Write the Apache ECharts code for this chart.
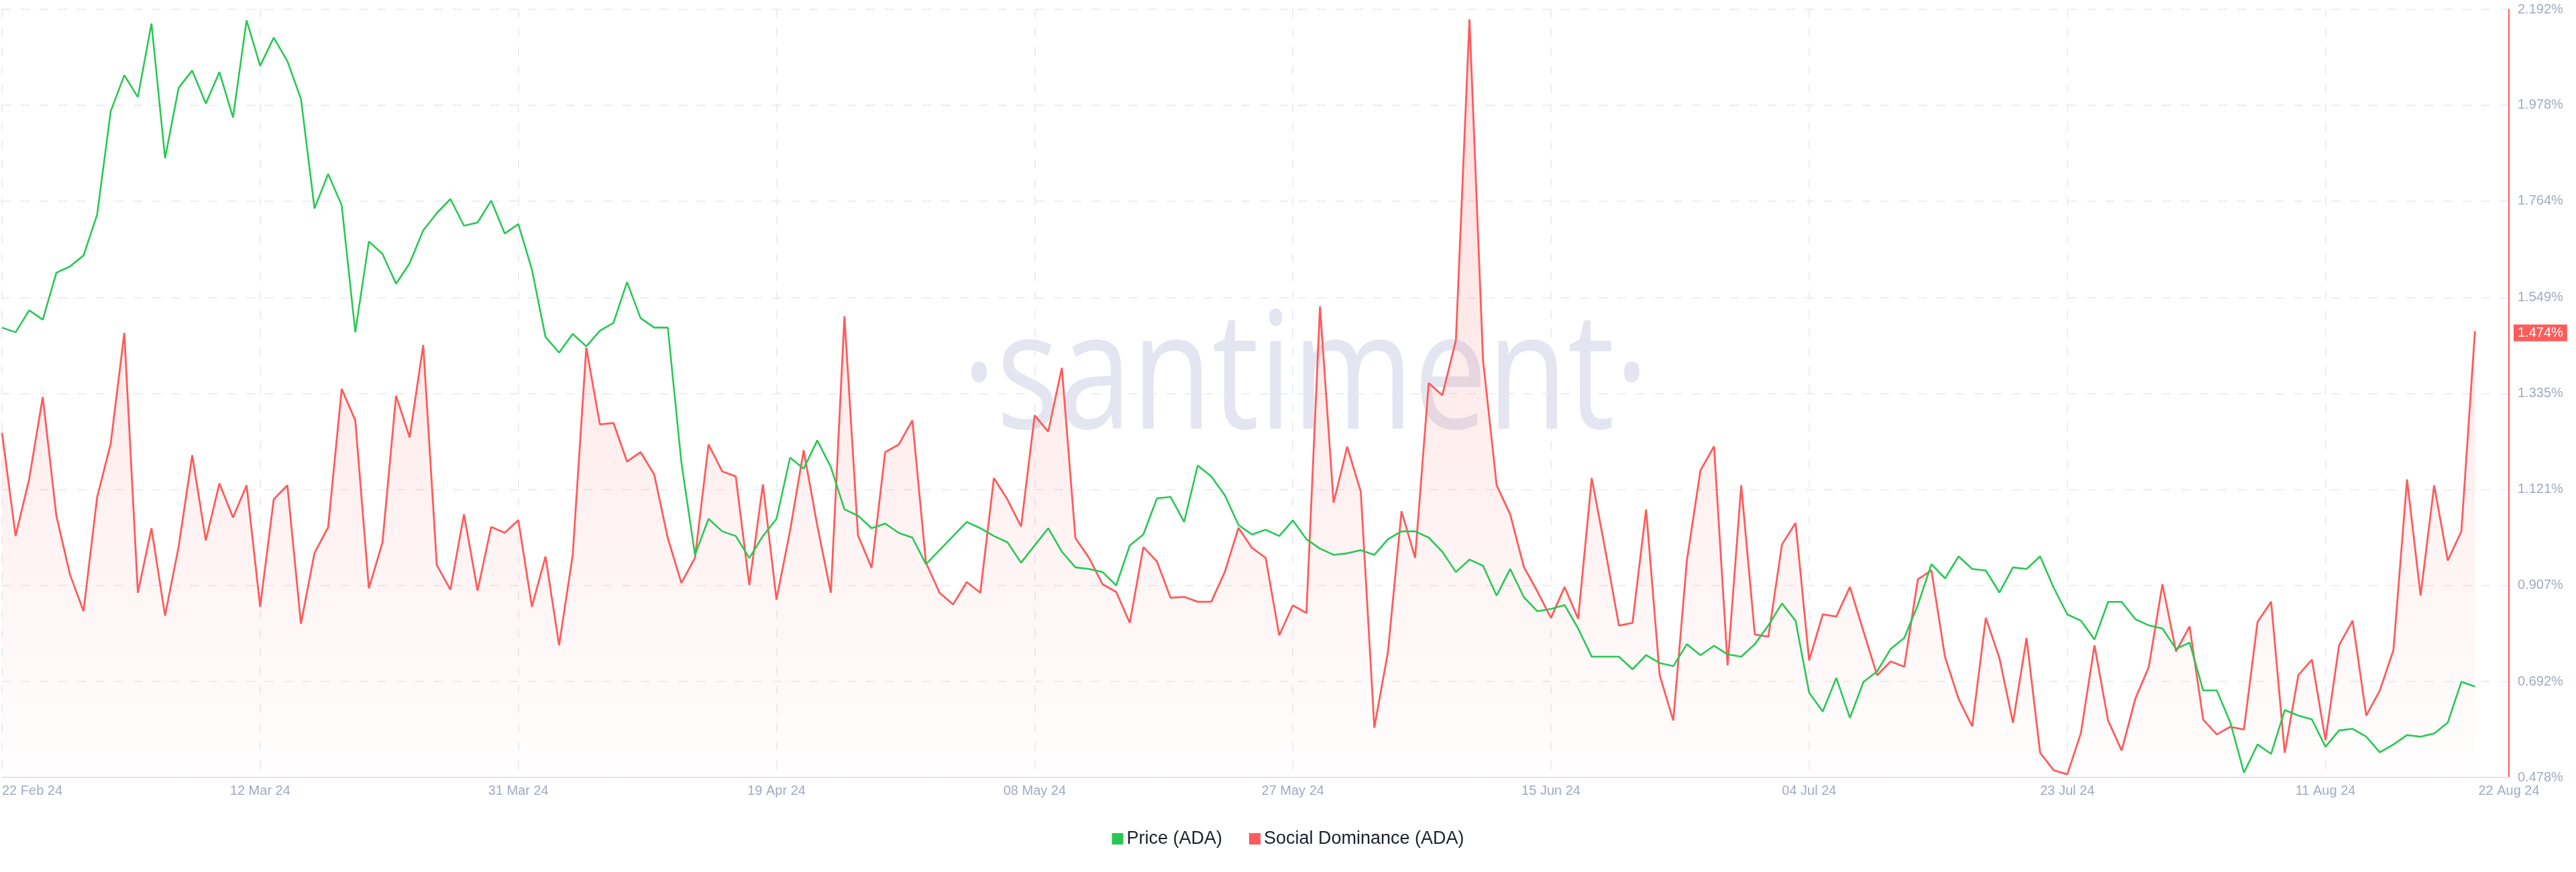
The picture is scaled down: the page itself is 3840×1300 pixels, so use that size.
<!DOCTYPE html>
<html>
<head>
<meta charset="utf-8">
<script src="https://cdn.jsdelivr.net/npm/echarts@6/dist/echarts.min.js"></script>
<style>
html,body{margin:0;padding:0;background:#fff;}
#chart{width:3840px;height:1300px;}
</style>
</head>
<body>
<div id="chart"></div>
<script>
// Daily values, one per day starting 22 Feb 2024 (index 0) to 22 Aug 2024 (index 182)
const priceADA = [
  0.587,0.584,0.598,0.592,0.622,0.626,0.633,0.659,0.725,0.748,0.734,0.781,0.695,0.740,0.751,0.730,0.750,0.721,0.783,0.754,
  0.772,0.757,0.733,0.663,0.685,0.665,0.584,0.642,0.634,0.615,0.628,0.649,0.660,0.669,0.652,
  0.654,0.668,0.647,0.653,0.624,0.581,0.571,0.583,0.575,0.585,0.590,0.616,0.593,0.587,0.587,0.501,0.442,0.465,0.457,0.454,
  0.440,0.454,0.465,0.504,0.497,
  0.515,0.498,0.471,0.467,0.459,0.462,0.456,0.453,0.436,0.445,0.454,0.463,0.459,0.454,0.450,0.437,0.448,0.459,0.444,0.434,
  0.433,0.431,0.4225,0.448,
  0.455,0.478,0.479,0.463,0.499,0.492,0.480,0.461,0.455,0.458,0.454,0.464,0.452,0.446,0.442,0.443,0.445,0.442,0.452,0.457,
  0.457,0.453,0.444,0.431,0.439,
  0.435,0.416,0.433,0.415,0.406,0.4075,0.410,0.395,0.377,0.377,0.377,0.369,0.378,0.373,0.371,0.385,0.378,0.384,0.3785,0.377,
  0.385,0.397,0.411,0.400,0.354,
  0.342,0.3635,0.338,0.361,0.3676,0.382,0.389,0.410,0.436,0.427,0.441,0.433,0.432,0.418,0.434,0.433,0.441,0.421,0.404,0.400,
  0.388,0.412,0.412,0.401,0.397,
  0.395,0.382,0.386,0.3555,0.3555,0.335,0.303,0.321,0.315,0.343,0.3395,0.337,0.3195,0.330,0.331,0.326,0.316,0.321,0.327,0.326,
  0.328,0.335,0.361,0.358
];
const socialDominance = [
  1.247,1.017,1.144,1.327,1.062,0.931,0.849,1.103,1.223,1.470,0.890,1.034,0.839,0.993,1.197,1.007,1.134,1.058,1.130,0.859,
  1.099,1.130,0.821,0.979,1.036,1.345,1.275,0.900,1.002,1.330,1.237,1.443,0.952,0.897,1.065,
  0.895,1.037,1.024,1.052,0.859,0.971,0.773,0.974,1.437,1.266,1.269,1.183,1.204,1.154,1.012,0.912,0.968,1.221,1.161,1.150,
  0.907,1.132,0.875,1.029,1.208,
  1.040,0.890,1.507,1.018,0.946,1.204,1.221,1.275,0.957,0.890,0.864,0.914,0.890,1.146,1.098,1.038,1.286,1.250,1.392,1.012,
  0.968,0.909,0.892,0.823,
  0.992,0.960,0.879,0.881,0.870,0.870,0.937,1.035,0.990,0.968,0.795,0.862,0.845,1.529,1.091,1.216,1.116,0.589,0.758,1.072,
  0.968,1.358,1.331,1.453,2.170,
  1.409,1.130,1.065,0.948,0.893,0.834,0.903,0.832,1.146,0.985,0.817,0.823,1.076,0.706,0.605,0.962,1.163,1.217,0.728,1.130,
  0.797,0.792,0.998,1.046,0.739,
  0.842,0.837,0.903,0.804,0.706,0.737,0.725,0.920,0.940,0.747,0.653,0.592,0.834,0.745,0.600,0.789,0.533,0.494,0.485,0.577,
  0.773,0.605,0.538,0.653,0.725,
  0.909,0.759,0.815,0.607,0.574,0.591,0.585,0.825,0.870,0.533,0.706,0.741,0.561,0.773,0.828,0.616,0.672,0.762,1.143,0.884,
  1.130,0.962,1.027,1.474
];
const xTickDays = [0,19,38,57,76,95,114,133,152,171,184.5];
const xTickLabels = ['22 Feb 24','12 Mar 24','31 Mar 24','19 Apr 24','08 May 24','27 May 24','15 Jun 24','04 Jul 24','23 Jul 24','11 Aug 24','22 Aug 24'];
const yTicks = [0.478,0.692,0.907,1.121,1.335,1.549,1.764,1.978,2.192];
const seriesNames = ['Price (ADA)','Social Dominance (ADA)'];

const GREEN = '#26c953', RED = '#ff5b5b', AXIS_TXT = '#9faac4', GRID = '#e6e8f2';
const FONT = '"Liberation Sans", Arial, sans-serif';

const pricePairs = priceADA.map((v,i)=>[i,v]);
const socialPairs = socialDominance.map((v,i)=>[i,v]);
const lastSocial = socialDominance[socialDominance.length-1];

const chart = echarts.init(document.getElementById('chart'), null, {renderer:'canvas'});
chart.setOption({
  animation:false,
  backgroundColor:'#ffffff',
  textStyle:{fontFamily:FONT},
  graphic:[{
    type:'text', z:0, zlevel:0, silent:true,
    x:1946, y:570, scaleX:0.805,
    style:{text:'·santiment·', fill:'#e3e6f1', font:'400 243px "Open Sans", sans-serif', align:'center', verticalAlign:'middle'}
  }],
  grid:{left:0, right:100, top:14, bottom:141, containLabel:false},
  legend:{
    data:seriesNames, bottom:31, left:'center', icon:'rect', itemWidth:17, itemHeight:17,
    itemGap:40, itemTextGap:10,
    textStyle:{fontSize:27, color:'#1c1f2d', fontFamily:FONT}
  },
  xAxis:{
    type:'value', min:0, max:184.5,
    axisLine:{show:true, lineStyle:{color:'#e1e5f0', width:2}},
    axisTick:{show:false, customValues:xTickDays},
    splitLine:{show:true, lineStyle:{color:GRID, width:1.5, type:[13,15]}},
    axisLabel:{
      customValues:xTickDays, color:AXIS_TXT, fontSize:20, margin:10, fontFamily:FONT,
      alignMinLabel:'left', showMaxLabel:true,
      formatter:(v)=>{ const k = xTickDays.indexOf(v); return k>=0 ? xTickLabels[k] : ''; }
    }
  },
  yAxis:[
    {type:'value', min:0.30, max:0.79, show:false, splitLine:{show:false}},
    {type:'value', position:'right', min:0.478, max:2.192,
     axisLine:{show:true, lineStyle:{color:RED, width:2}},
     axisTick:{show:false, customValues:yTicks},
     splitLine:{show:true, lineStyle:{color:GRID, width:1.5, type:[13,15]}},
     axisLabel:{customValues:yTicks, color:AXIS_TXT, fontSize:20, margin:13, fontFamily:FONT,
       formatter:(v)=>v.toFixed(3)+'%'}
    }
  ],
  series:[
    {
      name:seriesNames[1], type:'line', yAxisIndex:1, data:socialPairs, symbol:'none', z:2,
      lineStyle:{color:RED, width:2.8}, itemStyle:{color:RED},
      areaStyle:{color:new echarts.graphic.LinearGradient(0,0,0,1,[
        {offset:0, color:'rgba(255,91,91,0.30)'},
        {offset:1, color:'rgba(255,91,91,0.01)'}])},
      markLine:{
        silent:true, symbol:'none', animation:false,
        lineStyle:{color:'rgba(0,0,0,0)', width:0},
        data:[{yAxis:lastSocial}],
        label:{show:true, position:'end', distance:7, formatter:lastSocial.toFixed(3)+'%',
          backgroundColor:RED, color:'#ffffff', fontSize:20, fontFamily:FONT, padding:[3,6,2,6]}
      }
    },
    {
      name:seriesNames[0], type:'line', yAxisIndex:0, data:pricePairs, symbol:'none', z:3,
      lineStyle:{color:GREEN, width:2.6}, itemStyle:{color:GREEN}
    }
  ]
});
</script>
</body>
</html>
